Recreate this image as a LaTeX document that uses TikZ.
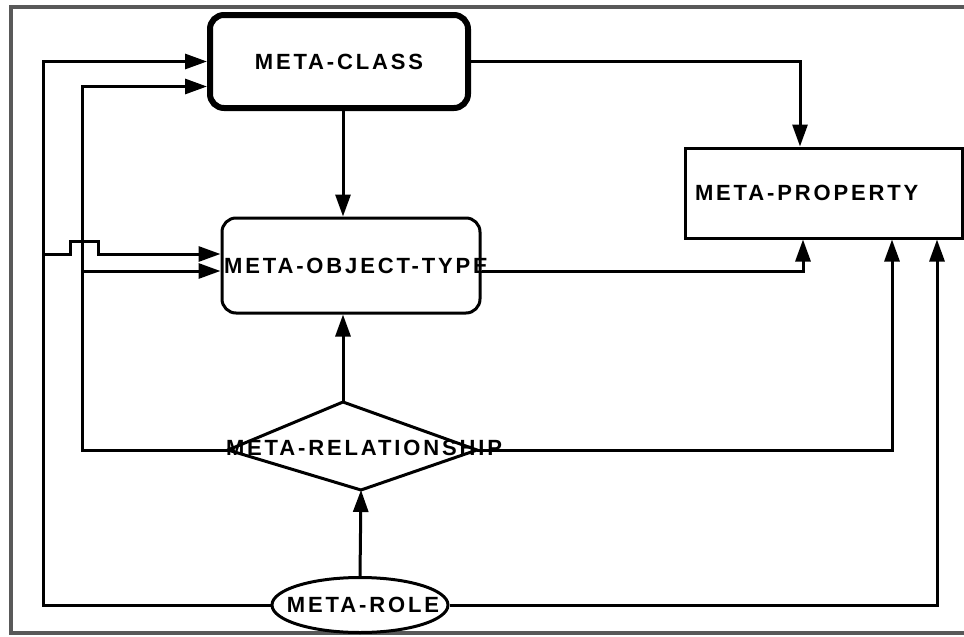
\documentclass[tikz,border=0pt]{standalone}
\usepackage{fontspec}
\setmainfont{Liberation Sans}
\newfontfamily\metafont[LetterSpace=13]{Liberation Sans}
\usetikzlibrary{positioning,calc,arrows.meta,shapes}

\tikzset{
    lbl/.style={font=\metafont\bfseries\fontsize{11}{13}\selectfont},
    conn/.style={line width=1.5pt, -{Triangle[length=11pt,width=7.5pt]}},
    classbox/.style={draw, rectangle, rounded corners=7pt, line width=3pt, minimum width=129pt, minimum height=46.5pt, inner sep=0pt},
    objbox/.style={draw, rectangle, rounded corners=7pt, line width=1.5pt, minimum width=129pt, minimum height=47.5pt, inner sep=0pt},
    propbox/.style={draw, rectangle, line width=1.5pt, text width=128.5pt, inner xsep=5pt, minimum height=45pt, align=left},
    rolebox/.style={draw, ellipse, line width=1.5pt, minimum width=88pt, minimum height=27.5pt, inner sep=0pt},
    frame/.style={line width=2pt, black!65}
}

\begin{document}
\begin{tikzpicture}[x=0.5pt, y=-0.5pt]
    \useasboundingbox (0,0) rectangle (964,637);
    \draw[frame] (964,7) -- (11,7) -- (11,633) -- (964,633);

    \node[classbox, lbl] (cls) at (339,61.5) {META-CLASS};
    \node[objbox, lbl] (obj) at (351,265.5) {\makebox[0pt]{\hspace*{5pt}META-OBJECT-TYPE}};
    \node[propbox, lbl] (prop) at (823.5,193) {META-PROPERTY};
    \node[rolebox, lbl] (role) at (360,605) {\makebox[0pt]{\hspace*{3pt}META-ROLE}};

    \coordinate (rn) at (343,402);
    \coordinate (re) at (477,450);
    \coordinate (rs) at (361,490);
    \coordinate (rw) at (228,450);
    \draw[line width=1.5pt] (rn) -- (re) -- (rs) -- (rw) -- cycle;
    \node[lbl] (rel) at (364,448) {META-RELATIONSHIP};

    % buses on the left
    \coordinate (lo) at (43,254);
    \coordinate (li) at (82,271);

    \draw[conn] (cls.south -| rn) -- (obj.north -| rn);
    \draw[conn] (rn) -- (obj.south -| rn);
    \draw[conn] (role.north) -- (rs);
    \draw[conn] (cls.east) -| ($(prop.north)+(-23.5,0)$);
    \draw[conn] ($(obj.east)+(0,6)$) -| ($(prop.south)+(-20.5,0)$);
    \draw[conn] (re) -| ($(prop.south)+(68.5,0)$);
    \draw[conn] (role.east) -| ($(prop.south)+(113.5,0)$);
    \draw[conn] (role.west) -| (lo) |- (cls.west);
    \draw[conn] (lo) -- ++(27,0) -- ++(0,-13) -- ++(28,0) -- ++(0,13) -- (lo -| obj.west);
    \draw[conn] (rw) -| (li) |- ($(cls.west)+(0,25)$);
    \draw[conn] (li) -- (li -| obj.west);
\end{tikzpicture}
\end{document}
